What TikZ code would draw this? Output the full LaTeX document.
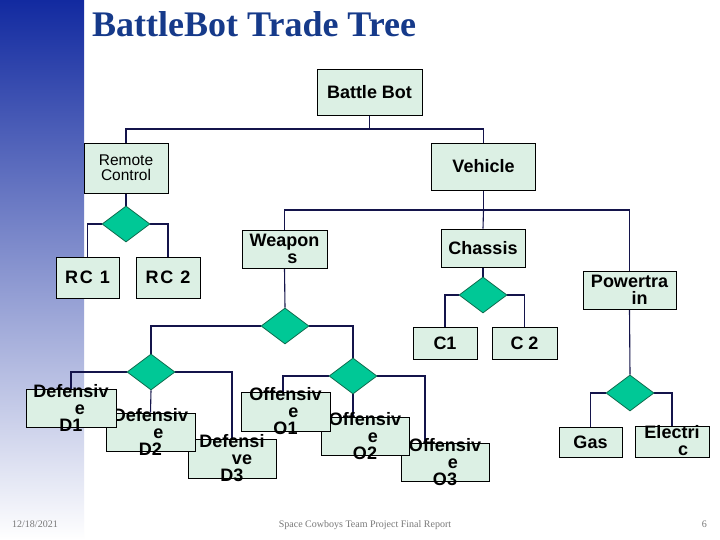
\documentclass[tikz,border=0pt]{standalone}
\usepackage{fontspec}
\setmainfont{Liberation Sans}
\newfontfamily\titlefont{Liberation Serif}
\usetikzlibrary{shapes.geometric}
\definecolor{boxfill}{RGB}{220,240,228}
\definecolor{dfill}{RGB}{0,200,150}
\definecolor{dline}{RGB}{16,110,80}
\definecolor{conncol}{RGB}{20,20,75}
\definecolor{titlecol}{RGB}{22,58,138}
\definecolor{bandtop}{RGB}{18,42,160}
\definecolor{bandmid}{RGB}{160,165,210}
\definecolor{footcol}{RGB}{120,120,120}
\pgfdeclarelayer{bg}
\pgfdeclarelayer{lines}
\pgfsetlayers{bg,lines,main}
\begin{document}
\begin{tikzpicture}[x=1pt,y=-1pt,
  box/.style={draw=black,line width=0.9pt,fill=boxfill,inner sep=0pt,
    font=\bfseries\fontsize{18}{17}\selectfont,align=center},
  lbl/.style={inner sep=0pt,font=\bfseries\fontsize{18}{17}\selectfont,align=center},
  dia/.style={diamond,draw=dline,fill=dfill,line width=0.8pt,inner sep=0pt,
    minimum width=48pt,minimum height=36pt},
  conn/.style={draw=conncol,line width=1.1pt},
  foot/.style={inner sep=0pt,text=footcol,font=\titlefont\fontsize{10}{10}\selectfont}]
\useasboundingbox (0,0) rectangle (720,540);
\begin{pgfonlayer}{bg}
  \fill[white] (0,0) rectangle (720,540);
  \shade[top color=bandtop,middle color=bandmid,bottom color=white] (0,0) rectangle (84,540);
\end{pgfonlayer}

% title
\node[anchor=base west,inner sep=0pt,text=titlecol,
  font=\titlefont\bfseries\fontsize{36}{36}\selectfont] (title) at (92,37) {BattleBot Trade Tree};

% level 1-2
\node[box,minimum width=105pt,minimum height=46pt] (bb) at (369.5,92) {Battle Bot};
\node[box,minimum width=84pt,minimum height=50pt,font=\fontsize{15.5}{15}\selectfont] (rc) at (126,168) {Remote\\Control};
\node[box,minimum width=104pt,minimum height=47pt] (veh) at (483.5,166.5) {Vehicle};

% remote control branch
\node[dia] (drc) at (126,224) {};
\node[box,minimum width=63pt,minimum height=41pt,font=\bfseries\fontsize{18}{17}\selectfont\addfontfeature{LetterSpace=10}] (rc1) at (87.5,277.5) {RC 1};
\node[box,minimum width=64pt,minimum height=41pt,font=\bfseries\fontsize{18}{17}\selectfont\addfontfeature{LetterSpace=10}] (rc2) at (168,277.5) {RC 2};

% vehicle children
\node[box,minimum width=85pt,minimum height=38pt,label={[lbl]center:{Weapon\\\hspace*{16pt}s}}] (wpn) at (284.5,249) {};
\node[box,minimum width=84pt,minimum height=38pt] (chs) at (483,248) {Chassis};
\node[box,minimum width=93pt,minimum height=38pt,label={[lbl]center:{Powertra\\\hspace*{20pt}in}}] (pwr) at (629.5,290) {};

% chassis branch
\node[dia] (dch) at (483,295) {};
\node[box,minimum width=64pt,minimum height=32pt] (c1) at (445,343) {C1};
\node[box,minimum width=65pt,minimum height=32pt] (c2) at (524.5,343) {C 2};

% weapons branch
\node[dia] (dw) at (285,326) {};
\node[dia] (dd) at (151,372) {};
\node[dia] (dof) at (353,376) {};

\node[box,minimum width=88pt,minimum height=39pt,label={[lbl]center:{Defensi\\\hspace*{20pt}ve\\D3}}] (d3) at (232,458.5) {};
\node[box,minimum width=89pt,minimum height=38pt,label={[lbl]center:{Defensiv\\\hspace*{16pt}e\\D2}}] (d2) at (150.5,432) {};
\node[box,minimum width=90pt,minimum height=38pt,label={[lbl]center:{Defensiv\\\hspace*{18pt}e\\D1}}] (d1) at (71,408) {};

\node[box,minimum width=88pt,minimum height=38pt,label={[lbl]center:{Offensiv\\\hspace*{16pt}e\\O3}}] (o3) at (445,462) {};
\node[box,minimum width=88pt,minimum height=38pt,label={[lbl]center:{Offensiv\\\hspace*{16pt}e\\O2}}] (o2) at (365,436) {};
\node[box,minimum width=89pt,minimum height=39pt,label={[lbl]center:{Offensiv\\\hspace*{16pt}e\\O1}}] (o1) at (285.5,411.5) {};

% powertrain branch
\node[dia] (dpw) at (630,393) {};
\node[box,minimum width=63pt,minimum height=30pt] (gas) at (590.5,442) {Gas};
\node[box,minimum width=74pt,minimum height=31pt,label={[lbl,yshift=1pt]center:{Electri\\\hspace*{22pt}c}}] (ele) at (672,441.5) {};

% bus coordinates
\coordinate (b1) at (369.5,129);
\coordinate (b2) at (483.5,210);

\begin{pgfonlayer}{lines}
  \draw[conn] (bb.south) -- (b1);
  \draw[conn] (b1) -| (rc.north);
  \draw[conn] (b1) -| (veh.north);
  \draw[conn] (rc.south) -- (drc.north);
  \draw[conn] (drc.west) -| (rc1.north);
  \draw[conn] (drc.east) -| (rc2.north);
  \draw[conn] (veh.south) -- (b2);
  \draw[conn] (b2) -| (wpn.north);
  \draw[conn] (b2) -- (chs.north);
  \draw[conn] (b2) -| (pwr.north);
  \draw[conn] (chs.south) -- (dch.north);
  \draw[conn] (dch.west) -| (c1.north);
  \draw[conn] (dch.east) -| (c2.north);
  \draw[conn] (wpn.south) -- (dw.north);
  \draw[conn] (dw.west) -| (dd.north);
  \draw[conn] (dw.east) -| (dof.north);
  \draw[conn] (dd.west) -| (d1.north);
  \draw[conn] (dd.south) -- (d2.north);
  \draw[conn] (dd.east) -| (d3.north);
  \draw[conn] (dof.west) -| ([xshift=-2.5pt]o1.north);
  \draw[conn] (dof.south) -- (dof.south |- o2.north);
  \draw[conn] (dof.east) -| ([xshift=-20pt]o3.north);
  \draw[conn] (pwr.south) -- (dpw.north);
  \draw[conn] (dpw.west) -| (gas.north);
  \draw[conn] (dpw.east) -| (ele.north);
\end{pgfonlayer}

% footer
\node[foot,anchor=base west] (date) at (12,527) {12/18/2021};
\node[foot,anchor=base] (rep) at (365,527) {Space Cowboys Team Project Final Report};
\node[foot,anchor=base east] (pg) at (707,527) {6};
\end{tikzpicture}
\end{document}
